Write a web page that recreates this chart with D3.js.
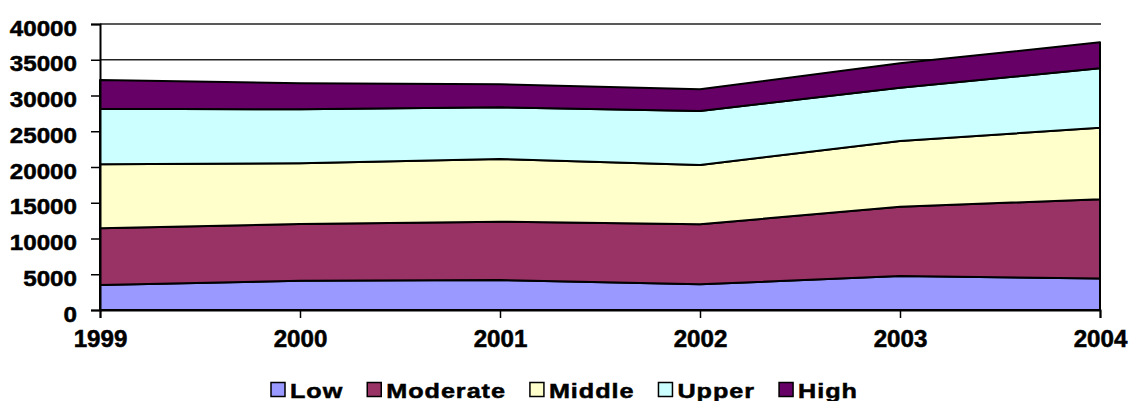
<!DOCTYPE html>
<html>
<head>
<meta charset="utf-8">
<script src="https://cdn.jsdelivr.net/npm/d3@7"></script>
<style>
  body { margin: 0; background: #fff; }
  text { font-family: "Liberation Sans", Arial, sans-serif; font-weight: bold; fill: #000; stroke: #000; stroke-width: 0.5px; }
</style>
</head>
<body>
<div id="chart"></div>
<script>
// data
const years = ["1999", "2000", "2001", "2002", "2003", "2004"];
const seriesNames = ["Low", "Moderate", "Middle", "Upper", "High"];
const low      = [3500, 4100, 4200, 3600, 4750, 4400];
const moderate = [7930, 7930, 8150, 8380, 9700, 11080];
const middle   = [8940, 8480, 8770, 8300, 9190, 10020];
const upper    = [7790, 7560, 7230, 7550, 7460, 8300];
const high     = [4010, 3630, 3210, 3030, 3400, 3640];
const yTicks   = [0, 5000, 10000, 15000, 20000, 25000, 30000, 35000, 40000];

const colours = ["#9999FF", "#993366", "#FFFFCC", "#CCFFFF", "#660066"];

const rows = years.map((y, i) => ({
  year: y, Low: low[i], Moderate: moderate[i], Middle: middle[i], Upper: upper[i], High: high[i]
}));

const W = 1130, H = 401;
const margin = {top: 24, right: 30, bottom: 91, left: 100};

const svg = d3.select("#chart").append("svg")
  .attr("width", W).attr("height", H);

const x = d3.scalePoint().domain(years).range([margin.left, W - margin.right]);
const y = d3.scaleLinear().domain([0, 40000]).range([H - margin.bottom, margin.top]);

// gridlines (under the areas)
svg.append("g").selectAll("line")
  .data(yTicks.slice(1))
  .enter().append("line")
  .attr("x1", margin.left).attr("x2", W - margin.right + 1)
  .attr("y1", d => y(d)).attr("y2", d => y(d))
  .attr("stroke", "#222").attr("stroke-width", 1.4);

const stack = d3.stack().keys(seriesNames);
const layers = stack(rows);

const area = d3.area()
  .x(d => x(d.data.year))
  .y0(d => y(d[0]))
  .y1(d => y(d[1]));

svg.append("g").selectAll("path")
  .data(layers)
  .enter().append("path")
  .attr("d", area)
  .attr("fill", (d, i) => colours[i])
  .attr("stroke", "#000")
  .attr("stroke-width", 2)
  .attr("stroke-linejoin", "round");

// y axis
const yAxis = d3.axisLeft(y).tickValues(yTicks).tickSize(9).tickFormat(d3.format("d"));
const gy = svg.append("g").attr("transform", `translate(${margin.left},0)`).call(yAxis);
gy.select(".domain").attr("stroke", "#000").attr("stroke-width", 2);
gy.selectAll(".tick line").attr("stroke", "#000").attr("stroke-width", 1.5);
gy.selectAll(".tick text")
  .attr("x", 0).attr("dy", "0.5em")
  .attr("transform", "translate(-23,0) scale(1.1,1)")
  .attr("font-size", 22)
  .attr("font-family", "Liberation Sans, Arial, sans-serif").attr("font-weight", "bold");

// x axis
const xAxis = d3.axisBottom(x).tickSize(8).tickPadding(6);
const gx = svg.append("g").attr("transform", `translate(0,${y(0)})`).call(xAxis);
gx.select(".domain").attr("stroke", "#000").attr("stroke-width", 2);
gx.selectAll(".tick line").attr("stroke", "#000").attr("stroke-width", 1.5);
gx.selectAll(".tick text")
  .attr("y", 0).attr("dy", 0)
  .attr("transform", "translate(0,37) scale(1.05,1)")
  .attr("font-size", 23)
  .attr("font-family", "Liberation Sans, Arial, sans-serif").attr("font-weight", "bold");

// legend
const legend = svg.append("g");
let lx = 271;
seriesNames.forEach((name, i) => {
  legend.append("rect")
    .attr("x", lx).attr("y", 382.5)
    .attr("width", 14).attr("height", 14)
    .attr("fill", colours[i])
    .attr("stroke", "#000").attr("stroke-width", 1.5);
  const t = legend.append("text")
    .attr("transform", `translate(${lx + 19},397.5) scale(1.2,1)`)
    .attr("font-size", 21).attr("letter-spacing", 0.8)
    .text(name);
  lx += 19 + t.node().getComputedTextLength() * 1.2 + 24;
});
</script>
</body>
</html>
